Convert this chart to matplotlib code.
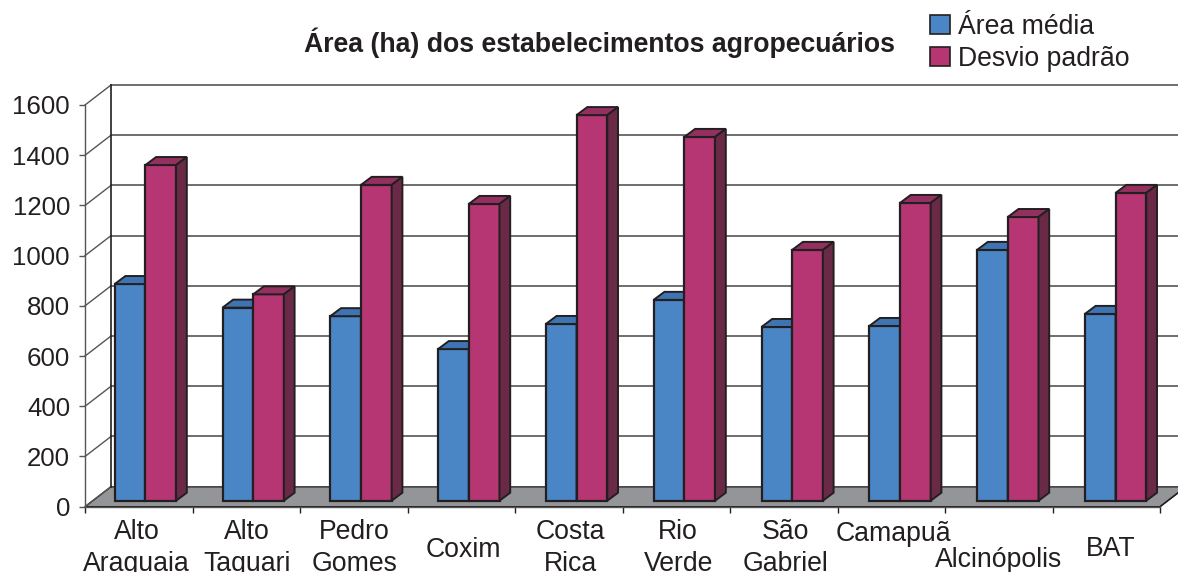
import matplotlib
matplotlib.use("Agg")
import matplotlib.pyplot as plt
from matplotlib.patches import Patch, Polygon

plt.rcParams['font.family'] = ['Liberation Sans', 'DejaVu Sans']

categorias = ["Alto\nAraguaia", "Alto\nTaquari", "Pedro\nGomes", "Coxim", "Costa\nRica",
              "Rio\nVerde", "São\nGabriel", "Camapuã", "Alcinópolis", "BAT"]
area_media = [863, 769, 735, 604, 704, 800, 692, 696, 999, 744]
desvio_padrao = [1337, 822, 1258, 1182, 1536, 1449, 999, 1186, 1130, 1226]
yticks = [0, 200, 400, 600, 800, 1000, 1200, 1400, 1600]

W, H = 1178, 572
INK = '#231f20'
GRID = '#555555'

# pixel sizes converted to axis units below
ax_left, ax_right, ax_bottom, ax_top = 85, 1160, 506.7, 105
ux = (ax_right - ax_left) / len(categorias)
uy = (ax_bottom - ax_top) / 1600


def dx(px):
    return px / ux


def dy(px):
    return px / uy


def top_and_side(ax, left, width, bottom, value, col_top, col_side, z):
    x0, x1 = left, left + width
    y0, y1 = bottom, bottom + value
    ddx, ddy = dx(10.7), dy(8)
    ax.add_patch(Polygon([(x0, y1), (x1, y1), (x1 + ddx, y1 + ddy), (x0 + ddx, y1 + ddy)],
                         fc=col_top, ec=INK, lw=1.4, zorder=z, clip_on=False, joinstyle='miter'))
    ax.add_patch(Polygon([(x1, y0), (x1 + ddx, y0 + ddy), (x1 + ddx, y1 + ddy), (x1, y1)],
                         fc=col_side, ec=INK, lw=1.4, zorder=z, clip_on=False, joinstyle='miter'))


fig = plt.figure(figsize=(W / 100, H / 100), dpi=100)
ax = fig.add_axes([ax_left / W, 1 - ax_bottom / H, (ax_right - ax_left) / W, (ax_bottom - ax_top) / H])
n = len(categorias)
ax.set_xlim(0, n)
ax.set_ylim(0, 1600)

# floor and walls
back_x, back_y = dx(26), dy(20)
ax.add_patch(Polygon([(0, 0), (n, 0), (n + back_x, back_y), (back_x, back_y)],
                     fc='#939598', ec=INK, lw=1.0, zorder=1, clip_on=False))
for v in yticks:
    ax.plot([0, back_x], [v, v + back_y], color=GRID, lw=1.0, zorder=1, clip_on=False)
    ax.plot([back_x, n + back_x], [v + back_y, v + back_y], color=GRID, lw=1.2, zorder=1, clip_on=False)
ax.plot([back_x, back_x], [back_y, 1600 + back_y], color=INK, lw=1.2, zorder=1, clip_on=False)
ax.plot([n, n + back_x], [0, back_y], color=INK, lw=1.0, zorder=1, clip_on=False)

# bars, the group pitch is a little wider than the tick spacing
bar_w = 30.7 / ux
bar_base = dy(6)
for i in range(n):
    left_a = dx(29.7 + 107.8 * i)
    left_d = left_a + bar_w
    ax.bar(left_a, area_media[i], bar_w, bottom=bar_base, align='edge', color='#4a86c5',
           edgecolor=INK, linewidth=1.6, zorder=3, clip_on=False)
    top_and_side(ax, left_a, bar_w, bar_base, area_media[i], '#3f74b2', '#2f5a8c', 3)
    ax.bar(left_d, desvio_padrao[i], bar_w, bottom=bar_base, align='edge', color='#b53673',
           edgecolor=INK, linewidth=1.6, zorder=4, clip_on=False)
    top_and_side(ax, left_d, bar_w, bar_base, desvio_padrao[i], '#94305f', '#6a2a47', 4)

for s in ['top', 'right']:
    ax.spines[s].set_visible(False)
for s in ['left', 'bottom']:
    ax.spines[s].set_color(GRID)
    ax.spines[s].set_linewidth(1.0)
    ax.spines[s].set_zorder(2)
ax.set_yticks(yticks)
ax.set_xticks(range(n + 1))
ax.set_xticklabels([])
ax.tick_params(axis='y', length=4.3, width=1.0, color=GRID, pad=6.5, labelsize=18.6, labelcolor=INK)
ax.tick_params(axis='x', length=4.3, width=1.0, color=INK)

label_shift = [-2, 1, 1, 2, 2, 2, 2, 2, 0, 4]
label_y = [548, 548, 548, 550, 548, 548, 548, 534, 560, 549]
for i, nome in enumerate(categorias):
    fig.text((ax_left + ux * (i + 0.5) + label_shift[i]) / W, 1 - label_y[i] / H, nome,
             ha='center', va='center', fontsize=19.2, color=INK, linespacing=1.3)

fig.text(599.5 / W, 1 - 43 / H, "Área (ha) dos estabelecimentos agropecuários",
         ha='center', va='center', fontsize=19.2, fontweight='bold', color=INK)

handles = [Patch(fc='#4a86c5', ec=INK, lw=1.2, label="Área média"),
           Patch(fc='#b53673', ec=INK, lw=1.2, label="Desvio padrão")]
fig.legend(handles=handles, loc='upper left', bbox_to_anchor=(930 / W, 1 - 14 / H), frameon=False,
           fontsize=19.2, labelcolor=INK, handlelength=0.74, handleheight=0.74, handletextpad=0.3,
           labelspacing=0.22, borderpad=0, borderaxespad=0)

fig.savefig('out.png', dpi=100)
